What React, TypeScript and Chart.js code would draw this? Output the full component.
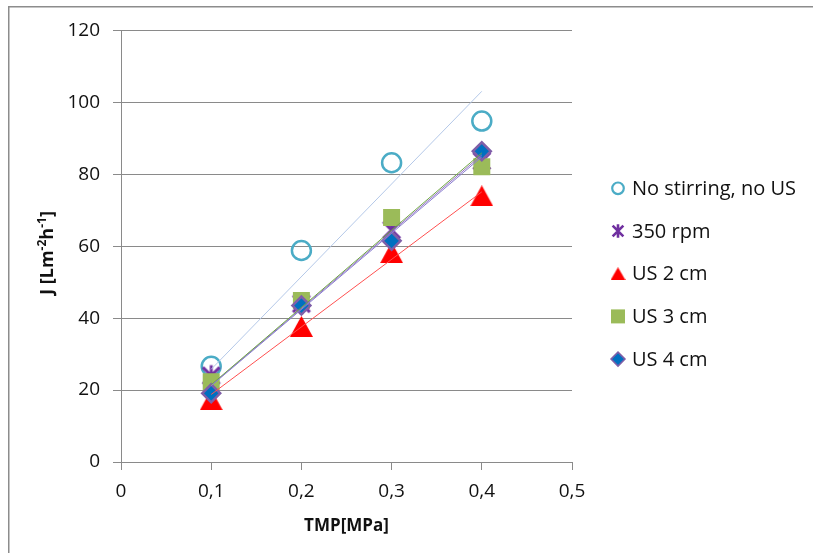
import React, { useEffect, useRef } from 'react';
import { Chart, registerables } from 'chart.js';

Chart.register(...registerables);

// ---- data ----
const tmp = [0.1, 0.2, 0.3, 0.4];
const noStirring = [26.6, 58.8, 83.2, 94.8];
const rpm350 = [24.0, 44.0, 64.5, 83.7];
const us2 = [17.3, 37.7, 58.2, 74.0];
const us3 = [22.3, 44.9, 68.0, 82.1];
const us4 = [19.1, 43.5, 61.5, 86.4];
const seriesNames = ['No stirring, no US', '350 rpm', 'US 2 cm', 'US 3 cm', 'US 4 cm'];
const xTicks = [0, 0.1, 0.2, 0.3, 0.4, 0.5];
const yTicks = [0, 20, 40, 60, 80, 100, 120];

const FONT = "'Open Sans', 'DejaVu Sans', sans-serif";
const GRID = '#8a8a8a';
const TEXT = '#111111';

function makeAsterisk(size: number, color: string, lw: number) {
  const c = document.createElement('canvas');
  c.width = size;
  c.height = size;
  const ctx = c.getContext('2d')!;
  ctx.strokeStyle = color;
  ctx.lineWidth = lw;
  const m = size / 2;
  const r = size / 2 - lw / 2;
  const d = r * 0.8;
  ctx.beginPath();
  ctx.moveTo(m, m - r);
  ctx.lineTo(m, m + r);
  ctx.moveTo(m - d, m - d);
  ctx.lineTo(m + d, m + d);
  ctx.moveTo(m + d, m - d);
  ctx.lineTo(m - d, m + d);
  ctx.stroke();
  return c;
}

function makeTriangle(w: number, h: number, color: string) {
  const c = document.createElement('canvas');
  c.width = w;
  c.height = h;
  const ctx = c.getContext('2d')!;
  ctx.fillStyle = color;
  ctx.beginPath();
  ctx.moveTo(w / 2, 0);
  ctx.lineTo(w, h);
  ctx.lineTo(0, h);
  ctx.closePath();
  ctx.fill();
  return c;
}

function slopeThroughOrigin(xs: number[], ys: number[]) {
  let sxy = 0;
  let sxx = 0;
  xs.forEach((x, i) => {
    sxy += x * ys[i];
    sxx += x * x;
  });
  return sxy / sxx;
}

export default function App() {
  const ref = useRef<HTMLCanvasElement | null>(null);

  useEffect(() => {
    if (!ref.current) return;
    const asterisk = makeAsterisk(24, '#7030a0', 3);
    const triangle = makeTriangle(23, 21, '#ff0000');
    const asteriskSmall = makeAsterisk(16, '#7030a0', 2.6);
    const triangleSmall = makeTriangle(15, 13, '#ff0000');

    const seriesValues = [noStirring, rpm350, us2, us3, us4];
    const trendColors = ['#b4c8e8', '#9470c4', '#ff5050', '#6fa843', '#8a7fd0'];

    const markerDs = [
      {
        label: seriesNames[0],
        pointStyle: 'circle',
        pointRadius: 9.5,
        borderWidth: 2.5,
        borderColor: '#4bacc6',
        backgroundColor: 'rgba(255,255,255,0)',
      },
      {
        label: seriesNames[1],
        pointStyle: asterisk,
        pointRadius: 11,
        borderWidth: 0,
        borderColor: '#7030a0',
        backgroundColor: '#7030a0',
      },
      {
        label: seriesNames[2],
        pointStyle: triangle,
        pointRadius: 10,
        borderWidth: 0,
        borderColor: '#ff0000',
        backgroundColor: '#ff0000',
      },
      {
        label: seriesNames[3],
        pointStyle: 'rect',
        pointRadius: 12,
        borderWidth: 0,
        borderColor: '#9bbb59',
        backgroundColor: '#9bbb59',
      },
      {
        label: seriesNames[4],
        pointStyle: 'rectRot',
        pointRadius: 9,
        borderWidth: 2.5,
        borderColor: '#7f5fa8',
        backgroundColor: '#0070c0',
      },
    ].map((d, i) => ({
      ...d,
      type: 'scatter',
      data: tmp.map((x, j) => ({ x, y: seriesValues[i][j] })),
      showLine: false,
      pointHoverRadius: d.pointRadius,
      order: 20 - i,
    }));

    const trendDs = seriesValues.map((ys, i) => {
      const k = slopeThroughOrigin(tmp, ys);
      const x0 = tmp[0];
      const x1 = tmp[tmp.length - 1];
      return {
        type: 'line',
        label: seriesNames[i] + ' trend',
        data: [
          { x: x0, y: k * x0 },
          { x: x1, y: k * x1 },
        ],
        borderColor: trendColors[i],
        borderWidth: 1,
        pointRadius: 0,
        fill: false,
        order: 5 - i,
      };
    });

    const legendPlugin = {
      id: 'customLegend',
      afterDraw(chart: any) {
        const ctx = chart.ctx;
        ctx.save();
        // frame (top/left edge of chart border)
        ctx.strokeStyle = '#8c8c8c';
        ctx.lineWidth = 1.5;
        ctx.beginPath();
        ctx.moveTo(0.75, chart.height + 2);
        ctx.lineTo(0.75, 0.75);
        ctx.lineTo(chart.width + 2, 0.75);
        ctx.stroke();

        const mx = 610;
        const tx = 624;
        const y0 = 182.3;
        const dy = 42.7;
        ctx.font = `20px ${FONT}`;
        ctx.fillStyle = TEXT;
        ctx.textBaseline = 'middle';
        ctx.textAlign = 'left';
        seriesNames.forEach((name, i) => {
          const y = y0 + i * dy;
          ctx.save();
          if (i === 0) {
            ctx.strokeStyle = '#4bacc6';
            ctx.lineWidth = 2.2;
            ctx.beginPath();
            ctx.arc(mx, y, 5.8, 0, Math.PI * 2);
            ctx.stroke();
          } else if (i === 1) {
            ctx.drawImage(asteriskSmall, mx - 8, y - 8);
          } else if (i === 2) {
            ctx.drawImage(triangleSmall, mx - 7.5, y - 6.5);
          } else if (i === 3) {
            ctx.fillStyle = '#9bbb59';
            ctx.fillRect(mx - 7, y - 7, 14, 14);
          } else {
            ctx.fillStyle = '#0070c0';
            ctx.strokeStyle = '#7f5fa8';
            ctx.lineWidth = 1.5;
            ctx.beginPath();
            ctx.moveTo(mx - 7, y);
            ctx.lineTo(mx, y - 7);
            ctx.lineTo(mx + 7, y);
            ctx.lineTo(mx, y + 7);
            ctx.closePath();
            ctx.fill();
            ctx.stroke();
          }
          ctx.restore();
          ctx.fillStyle = TEXT;
          ctx.fillText(name, tx, y + 1);
        });

        // y axis title with superscripts
        ctx.save();
        ctx.translate(39, 247);
        ctx.rotate(-Math.PI / 2);
        const big = `bold 18px ${FONT}`;
        const small = `bold 12px ${FONT}`;
        const parts: [string, boolean][] = [
          ['J [Lm', false],
          ['-2', true],
          ['h', false],
          ['-1', true],
          [']', false],
        ];
        let total = 0;
        parts.forEach(([t, sup]) => {
          ctx.font = sup ? small : big;
          total += ctx.measureText(t).width;
        });
        let x = -total / 2;
        ctx.fillStyle = TEXT;
        ctx.textBaseline = 'alphabetic';
        parts.forEach(([t, sup]) => {
          ctx.font = sup ? small : big;
          ctx.fillText(t, x, sup ? -1 : 6);
          x += ctx.measureText(t).width;
        });
        ctx.restore();
        ctx.restore();
      },
    };

    const chart = new Chart(ref.current, {
      type: 'scatter',
      data: { datasets: [...markerDs, ...trendDs] as any },
      options: {
        animation: false,
        responsive: false,
        maintainAspectRatio: false,
        events: [],
        layout: { padding: { left: 0, top: 23, right: 241, bottom: 0 } },
        plugins: {
          legend: { display: false },
          tooltip: { enabled: false },
          title: { display: false },
        },
        scales: {
          x: {
            type: 'linear',
            min: 0,
            max: 0.5,
            afterBuildTicks: (s: any) => {
              s.ticks = xTicks.map((v) => ({ value: v }));
            },
            afterFit: (s: any) => {
              s.height = 91;
            },
            ticks: {
              autoSkip: false,
              maxRotation: 0,
              padding: 10,
              color: TEXT,
              font: { family: FONT, size: 19 },
              callback: (v: any) => String(Math.round(Number(v) * 10) / 10).replace('.', ','),
            },
            grid: {
              drawOnChartArea: false,
              drawTicks: true,
              tickLength: 8,
              color: GRID,
              lineWidth: 1,
            },
            border: { display: true, color: GRID, width: 1 },
            title: {
              display: true,
              text: 'TMP[MPa]',
              color: TEXT,
              font: { family: FONT, size: 17, weight: 'bold' },
              padding: { top: 0, bottom: 17 },
            },
          },
          y: {
            type: 'linear',
            min: 0,
            max: 120,
            afterBuildTicks: (s: any) => {
              s.ticks = yTicks.map((v) => ({ value: v }));
            },
            afterFit: (s: any) => {
              s.width = 113;
            },
            ticks: {
              padding: 13,
              color: TEXT,
              font: { family: FONT, size: 19 },
              callback: (v: any) => String(v),
            },
            grid: {
              drawOnChartArea: true,
              drawTicks: true,
              tickLength: 8,
              color: GRID,
              lineWidth: 1,
            },
            border: { display: true, color: GRID, width: 1 },
            title: { display: false },
          },
        },
      },
      plugins: [legendPlugin],
    } as any);

    return () => chart.destroy();
  }, []);

  return (
    <div style={{ position: 'absolute', left: 8, top: 6, width: 805, height: 547 }}>
      <canvas ref={ref} width={805} height={547} style={{ display: 'block', width: 805, height: 547 }} />
    </div>
  );
}
